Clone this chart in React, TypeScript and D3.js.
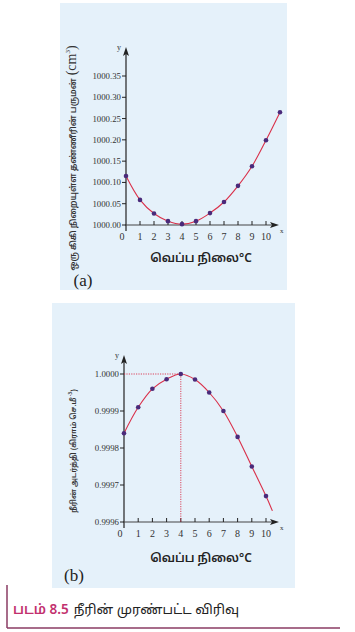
import React from "react";
import * as d3 from "d3";

const temps = [0, 1, 2, 3, 4, 5, 6, 7, 8, 9, 10, 11];
const volumeValues = [1000.115, 1000.059, 1000.027, 1000.009, 1000.002, 1000.009, 1000.028, 1000.054, 1000.092, 1000.138, 1000.199, 1000.265];
const volumeTicks = [1000.0, 1000.05, 1000.1, 1000.15, 1000.2, 1000.25, 1000.3, 1000.35];

const densTemps = [0, 1, 2, 3, 4, 5, 6, 7, 8, 9, 10];
const densityValues = [0.99984, 0.99991, 0.99996, 0.999986, 1.0, 0.999985, 0.99995, 0.9999, 0.99983, 0.99975, 0.99967];
const densityCurveEnd = { t: 10.45, v: 0.99963 };
const densityTicks = [0.9996, 0.9997, 0.9998, 0.9999, 1.0];

const xTickLabels = [0, 1, 2, 3, 4, 5, 6, 7, 8, 9, 10];

const tamilFont = "'Noto Sans Tamil', 'Noto Sans', 'Lato', sans-serif";
const serif = "'Liberation Serif', 'DejaVu Serif', serif";
const bg = "#e5f1fa";
const curveColor = "#d9304a";
const dotColor = "#4a2a7a";
const axisColor = "#222";

function Axes({ x, y, yTicks, fmt, xArrowEnd, yArrowTop }: any) {
  const x0 = x(0);
  const y0 = y.range()[0];
  return (
    <g>
      <line x1={x0} x2={x0} y1={y0 + 6} y2={yArrowTop + 6} stroke={axisColor} strokeWidth={1.2} />
      <path d={`M${x0 - 3},${yArrowTop + 9} L${x0},${yArrowTop} L${x0 + 3},${yArrowTop + 9} L${x0},${yArrowTop + 7} Z`} fill={axisColor} />
      <text x={x0 - 9} y={yArrowTop + 3} fontFamily={serif} fontSize={8} fill="#333">y</text>
      <line x1={x0 - 1} x2={xArrowEnd - 6} y1={y0} y2={y0} stroke="#444" strokeWidth={1.2} />
      <path d={`M${xArrowEnd - 9},${y0 - 3} L${xArrowEnd},${y0} L${xArrowEnd - 9},${y0 + 3} L${xArrowEnd - 7},${y0} Z`} fill={axisColor} />
      <text x={xArrowEnd + 1} y={y0 + 8} fontFamily={serif} fontSize={7} fill="#333">x</text>
      {yTicks.map((t: number) => (
        <g key={t}>
          <line x1={x0 - 4} x2={x0} y1={y(t)} y2={y(t)} stroke={axisColor} strokeWidth={1} />
          <text x={x0 - 5} y={y(t) + 3} textAnchor="end" fontFamily={serif} fontSize={8.8} fill="#333">{fmt(t)}</text>
        </g>
      ))}
      {xTickLabels.map((t) => (
        <g key={t}>
          {t > 0 && <line x1={x(t)} x2={x(t)} y1={y0} y2={y0 - 4} stroke={axisColor} strokeWidth={1} />}
          <text x={t === 0 ? x(t) - 4 : x(t)} y={y0 + 15} textAnchor="middle" fontFamily={serif} fontSize={10} fill="#333">{t}</text>
        </g>
      ))}
    </g>
  );
}

export default function App() {
  const xa = d3.scaleLinear().domain([0, 10]).range([126, 266]);
  const ya = d3.scaleLinear().domain([1000.0, 1000.35]).range([225, 76]);
  const lineA = d3
    .line<number>()
    .x((_, i) => xa(temps[i]))
    .y((d) => ya(d))
    .curve(d3.curveCatmullRom.alpha(0.5));

  const xb = d3.scaleLinear().domain([0, 10]).range([124, 266]);
  const yb = d3.scaleLinear().domain([0.9996, 1.0]).range([522, 374]);
  const bPts: [number, number][] = densTemps.map((t, i) => [t, densityValues[i]]);
  const bCurvePts = [...bPts, [densityCurveEnd.t, densityCurveEnd.v] as [number, number]];
  const lineB = d3
    .line<[number, number]>()
    .x((d) => xb(d[0]))
    .y((d) => yb(d[1]))
    .curve(d3.curveCatmullRom.alpha(0.5));

  const maxIdx = densityValues.indexOf(d3.max(densityValues) as number);

  return (
    <svg width={355} height={632} style={{ position: "absolute", left: 0, top: 0, background: "#fff" }}>
      {/* Panel (a) */}
      <rect x={60} y={3} width={227} height={287} fill={bg} />
      <Axes x={xa} y={ya} yTicks={volumeTicks} fmt={(t: number) => t.toFixed(2)} xArrowEnd={279} yArrowTop={47} />
      <path d={lineA(volumeValues) || ""} fill="none" stroke={curveColor} strokeWidth={1.1} />
      {volumeValues.map((v, i) => (
        <circle key={i} cx={xa(temps[i])} cy={ya(v)} r={2.3} fill={dotColor} />
      ))}
      <text x={201} y={262} textAnchor="middle" fontFamily={tamilFont} fontSize={12} fontWeight={600} fill="#222">வெப்ப நிலை°C</text>
      <text transform="translate(76,158) rotate(-90)" textAnchor="middle" fontFamily={tamilFont} fontSize={8.4} fontWeight={600} fill="#333">
        ஒரு கிகி நிறையுள்ள தண்ணீரின் பருமன்
        <tspan fontFamily={serif} fontSize={14} fontWeight={400} dx={3}>(cm</tspan>
        <tspan fontFamily={serif} fontSize={7} fontWeight={400} dy={-6}>3</tspan>
        <tspan fontFamily={serif} fontSize={14} fontWeight={400} dy={6}>)</tspan>
      </text>
      <text x={83} y={286} textAnchor="middle" fontFamily={serif} fontSize={17} fill="#222">(a)</text>

      {/* Panel (b) */}
      <rect x={52} y={303} width={243} height={285} fill={bg} />
      <Axes x={xb} y={yb} yTicks={densityTicks} fmt={(t: number) => t.toFixed(4)} xArrowEnd={279} yArrowTop={355} />
      <line x1={xb(0)} x2={xb(densTemps[maxIdx])} y1={yb(densityValues[maxIdx])} y2={yb(densityValues[maxIdx])} stroke={curveColor} strokeWidth={0.9} strokeDasharray="1.2,1.2" />
      <line x1={xb(densTemps[maxIdx])} x2={xb(densTemps[maxIdx])} y1={yb(densityValues[maxIdx])} y2={yb(0.9996)} stroke={curveColor} strokeWidth={0.9} strokeDasharray="1.2,1.2" />
      <path d={lineB(bCurvePts) || ""} fill="none" stroke={curveColor} strokeWidth={1.1} />
      {bPts.map((p, i) => (
        <circle key={i} cx={xb(p[0])} cy={yb(p[1])} r={2.3} fill={dotColor} />
      ))}
      <text x={201} y={562} textAnchor="middle" fontFamily={tamilFont} fontSize={12} fontWeight={600} fill="#222">வெப்ப நிலை°C</text>
      <text transform="translate(76,451) rotate(-90)" textAnchor="middle" fontFamily={tamilFont} fontSize={7.6} fontWeight={600} fill="#333">
        நீரின் அடர்த்தி (கிராம் செ.மீ
        <tspan fontSize={5} dy={-4}> -3</tspan>
        <tspan dy={4}>)</tspan>
      </text>
      <text x={74} y={581} textAnchor="middle" fontFamily={serif} fontSize={17} fill="#222">(b)</text>

      {/* Caption */}
      <line x1={7} x2={7} y1={585} y2={628} stroke="#8a3b63" strokeWidth={1.5} />
      <line x1={7} x2={340} y1={628} y2={628} stroke="#8a3b63" strokeWidth={1.5} />
      <text x={13} y={614} fontFamily={tamilFont} fontSize={13.5} fill="#222">
        <tspan fill="#c2306e" fontWeight={600}>படம் 8.5</tspan>
        <tspan dx={5}>நீரின் முரண்பட்ட விரிவு</tspan>
      </text>
    </svg>
  );
}
